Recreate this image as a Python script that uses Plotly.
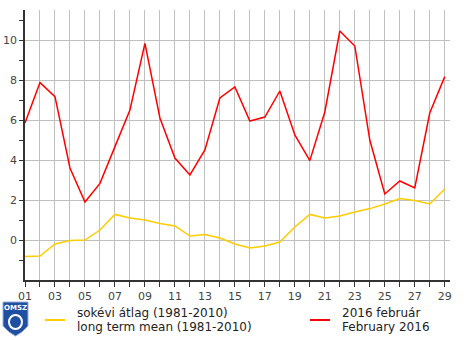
import plotly.graph_objects as go

days = list(range(1, 30))
feb2016 = [5.85, 7.87, 7.17, 3.6, 1.9, 2.83, 4.67, 6.5, 9.83, 6.1,
           4.1, 3.25, 4.5, 7.1, 7.65, 5.95, 6.15, 7.45, 5.25, 3.97,
           6.4, 10.45, 9.7, 5.0, 2.3, 2.95, 2.6, 6.35, 8.17]
longterm = [-0.83, -0.8, -0.2, -0.03, 0.0, 0.5, 1.28, 1.1, 1.0, 0.83,
            0.7, 0.2, 0.28, 0.1, -0.2, -0.4, -0.3, -0.1, 0.65, 1.28,
            1.1, 1.2, 1.4, 1.57, 1.8, 2.07, 1.97, 1.8, 2.55]
xlabels = ["%02d" % d for d in range(1, 30, 2)]
ylabels = ["0", "2", "4", "6", "8", "10"]

W, H = 475, 340
L, R, T, B = 25, 450, 10, 280

def px(x):
    return (x - L) / (R - L)

def py(y):
    return (B - y) / (B - T)

fig = go.Figure()
fig.add_trace(go.Scatter(x=days, y=longterm, mode="lines",
                         line=dict(color="#FFCC00", width=1.5), showlegend=False))
fig.add_trace(go.Scatter(x=days, y=feb2016, mode="lines",
                         line=dict(color="#FF0000", width=1.5), showlegend=False))

font = "DejaVu Sans, Verdana, sans-serif"
fig.update_layout(
    width=W, height=H,
    margin=dict(l=L, r=W - R, t=T, b=H - B, pad=0, autoexpand=False),
    paper_bgcolor="white", plot_bgcolor="white",
    font=dict(family=font, size=11, color="#444444"),
    xaxis=dict(range=[1, 29.35], tickvals=list(range(1, 30, 2)), ticktext=xlabels,
               automargin=False,
               ticks="outside", ticklen=5, tickcolor="#333333", tickwidth=1,
               showgrid=True, gridcolor="#C0C0C0", gridwidth=1,
               showline=True, linecolor="#333333", linewidth=1.5,
               zeroline=False,
               minor=dict(tickvals=list(range(2, 30, 2)), ticks="outside", ticklen=5,
                          tickcolor="#333333", showgrid=True, gridcolor="#C0C0C0", gridwidth=1),
               tickfont=dict(size=11, color="#444444")),
    yaxis=dict(range=[-2, 11.5], tickvals=[0, 2, 4, 6, 8, 10], ticktext=ylabels,
               automargin=False,
               ticks="outside", ticklen=4, tickcolor="#333333",
               showgrid=True, gridcolor="#C0C0C0", gridwidth=1,
               showline=True, linecolor="#333333", linewidth=1.5,
               zeroline=False,
               minor=dict(tickvals=[-1, 1, 3, 5, 7, 9, 11], ticks="outside", ticklen=4,
                          tickcolor="#333333", showgrid=False),
               tickfont=dict(size=11, color="#444444")),
)

# legend (custom)
fig.add_shape(type="line", xref="paper", yref="paper",
              x0=px(45), x1=px(65), y0=py(320), y1=py(320),
              line=dict(color="#FFCC00", width=2))
fig.add_shape(type="line", xref="paper", yref="paper",
              x0=px(310), x1=px(330), y0=py(320), y1=py(320),
              line=dict(color="#FF0000", width=2))
legend_texts = [
    (75, 313, "sokévi átlag (1981-2010)"),
    (75, 327, "long term mean (1981-2010)"),
    (340, 313, "2016 február"),
    (340, 327, "February 2016"),
]
for x, y, t in legend_texts:
    fig.add_annotation(xref="paper", yref="paper", x=px(x), y=py(y), text=t,
                       showarrow=False, xanchor="left", yanchor="middle",
                       font=dict(family=font, size=12, color="#222222"))

# logo
shield = "M {0},{1} L {2},{1} L {2},{3} Q {4},{5} {6},{7} Q {8},{5} {0},{3} Z".format(
    px(3), py(302), px(28), py(326), px(22), py(333), px(15.5), py(336), px(9))
fig.add_shape(type="path", xref="paper", yref="paper", path=shield,
              fillcolor="#1F4FA0", line=dict(color="#9AB0D8", width=1))
fig.add_annotation(xref="paper", yref="paper", x=px(15.5), y=py(308), text="<b>OMSZ</b>",
                   showarrow=False, xanchor="center", yanchor="middle",
                   font=dict(family=font, size=7, color="white"))
fig.add_shape(type="circle", xref="paper", yref="paper",
              x0=px(9), x1=px(22), y0=py(329), y1=py(315),
              line=dict(color="white", width=2))

fig.write_html("out.html", config={"displayModeBar": False},
               post_script="document.body.style.margin='0';document.body.style.overflow='hidden';")
